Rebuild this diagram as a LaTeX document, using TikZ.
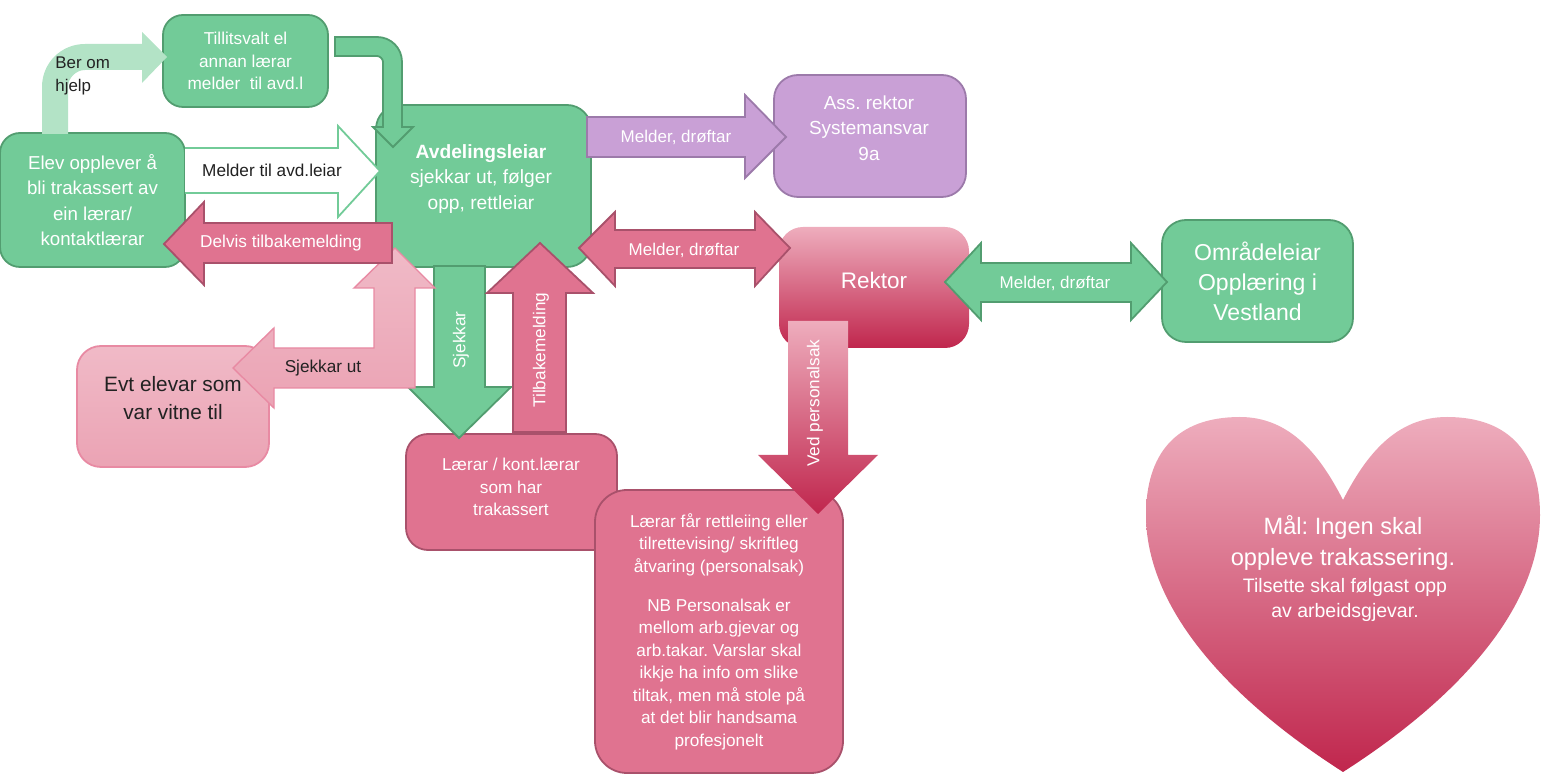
\documentclass[tikz,border=0pt]{standalone}
\usepackage{fontspec}
\setmainfont{Liberation Sans}
\frenchspacing
\definecolor{grn}{HTML}{72CB98}
\definecolor{grnline}{HTML}{529D70}
\definecolor{grnlight}{HTML}{B3E3C6}
\definecolor{pnk}{HTML}{E07390}
\definecolor{pnkline}{HTML}{A9516B}
\definecolor{pnklighttop}{HTML}{F0BAC7}
\definecolor{pnklight}{HTML}{EBA3B4}
\definecolor{pnklightline}{HTML}{E88AA3}
\definecolor{pnktop}{HTML}{EEADBD}
\definecolor{pnkbot}{HTML}{C0264D}
\definecolor{prp}{HTML}{C9A0D6}
\definecolor{prpline}{HTML}{9C7AAA}
\definecolor{ink}{HTML}{222222}

\begin{document}
\begin{tikzpicture}[x=0.5pt, y=-0.5pt]
  \tikzset{
    box/.style={rectangle, rounded corners=10pt, line width=0.9pt, inner sep=0pt, align=center},
    gbox/.style={box, fill=grn, draw=grnline, text=white},
    pbox/.style={box, fill=pnk, draw=pnkline, text=white},
    vbox/.style={box, fill=prp, draw=prpline, text=white},
    garrow/.style={fill=grn, draw=grnline, line width=0.9pt},
    parrow/.style={fill=pnk, draw=pnkline, line width=0.9pt},
    wtxt/.style={inner sep=0pt, align=center, text=white},
    btxt/.style={inner sep=0pt, align=center, text=ink},
    small/.style={font=\fontsize{8.6}{11.4}\selectfont},
    cond/.style={font=\fontsize{8.5}{11}\selectfont}
  };
  \useasboundingbox (0,0) rectangle (1543,774);

  \node[gbox, minimum width=92.5pt, minimum height=67pt, font=\fontsize{9.35}{12.65}\selectfont] (elev) at (92.5,200) {Elev opplever å\\bli trakassert av\\ein lærar/\\kontaktlærar};
  \node[gbox, minimum width=82.5pt, minimum height=46pt, small] (tillit) at (245.5,61) {Tillitsvalt el\\annan lærar\\melder\ \ til avd.l};
  \node[gbox, minimum width=107.5pt, minimum height=81pt, rounded corners=12pt] (avd) at (483.5,186) {};
  \node[wtxt, font=\fontsize{9.6}{12.75}\selectfont] (avdtxt) at (481,179) {\textbf{Avdelingsleiar}\\sjekkar ut, følger\\opp, rettleiar};
  \node[vbox, minimum width=96pt, minimum height=61pt, rounded corners=12pt] (ass) at (870,136) {};
  \node[wtxt, font=\fontsize{9.45}{12.75}\selectfont] (asstxt) at (869,128) {Ass. rektor\\Systemansvar\\9a};
  \node[box, minimum width=95pt, minimum height=60.5pt, rounded corners=12pt, top color=pnktop, bottom color=pnkbot] (rektor) at (874,287.5) {};
  \node[wtxt, font=\fontsize{11.25}{14}\selectfont] (rektortxt) at (874,280) {Rektor};
  \node[gbox, minimum width=95.5pt, minimum height=61pt, rounded corners=12pt, font=\fontsize{11.5}{15}\selectfont] (omr) at (1257.5,281) {Områdeleiar\\Opplæring i\\Vestland};
  \node[box, draw=pnklightline, top color=pnklighttop, bottom color=pnklight, minimum width=96pt, minimum height=60.5pt, rounded corners=12pt] (evt) at (173,406.5) {};
  \node[btxt, font=\fontsize{10.4}{14}\selectfont] (evttxt) at (173,398) {Evt elevar som\\var vitne til};
  \node[pbox, minimum width=105.5pt, minimum height=58pt, rounded corners=11pt] (laerar) at (511.5,492) {};
  \node[wtxt, small] (laerartxt) at (511,487) {Lærar / kont.lærar\\som har\\trakassert};
  \node[pbox, minimum width=124pt, minimum height=141.5pt, rounded corners=16pt, font=\fontsize{8.6}{11.25}\selectfont] (tiltak) at (719,631.5) {Lærar får rettleiing eller\\tilrettevising/ skriftleg\\åtvaring (personalsak)\\[8.25pt]NB Personalsak er\\mellom arb.gjevar og\\arb.takar. Varslar skal\\ikkje ha info om slike\\tiltak, men må stole på\\at det blir handsama\\profesjonelt};

  \fill[grnlight] (42,134) -- (42,87) .. controls (42,63) and (61,44) .. (85,44) -- (142,44) -- (142,32) -- (167,57) -- (142,83) -- (142,70) -- (85,70) .. controls (76,70) and (68,78) .. (68,87) -- (68,134) -- cycle;
  \node[btxt, anchor=west, align=left, font=\fontsize{8.45}{11.5}\selectfont] (hjelp) at (55,76) {Ber om\\hjelp};

  \draw[garrow] (335,37) -- (377,37) .. controls (391,37) and (402,48) .. (402,62) -- (402,127) -- (413,127) -- (393,147) -- (373,127) -- (383,127) -- (383,62) .. controls (383,59) and (380,56) .. (377,56) -- (335,56) -- cycle;

  \draw[fill=white, draw=grn, line width=0.9pt] (185,148) -- (338,148) -- (338,126) -- (380,171) -- (338,217) -- (338,193) -- (185,193);
  \node[btxt, small] (meldtxt) at (272,170) {Melder til avd.leiar};

  \draw[fill=prp, draw=prpline, line width=0.9pt] (587,117) -- (745,117) -- (745,95) -- (786,137) -- (745,178) -- (745,157) -- (587,157) -- cycle;
  \node[wtxt, cond] (asslbl) at (676,137) {Melder, drøftar};

  \draw[parrow] (579,248) -- (615,212) -- (615,230) -- (755,230) -- (755,212) -- (790,248) -- (755,286) -- (755,268) -- (615,268) -- (615,286) -- cycle;
  \node[wtxt, cond] (rektorlbl) at (684,250) {Melder, drøftar};

  \draw[garrow] (945,282) -- (981,243) -- (981,263) -- (1131,263) -- (1131,243) -- (1167,282) -- (1131,320) -- (1131,302) -- (981,302) -- (981,320) -- cycle;
  \node[wtxt, cond] (omrlbl) at (1055,283) {Melder, drøftar};

  \path[top color=pnktop, bottom color=pnkbot] (788,321) -- (848,321) -- (848,455) -- (878,455) -- (818,514) -- (758,455) -- (788,455) -- cycle;
  \node[wtxt, small, rotate=90] (vedlbl) at (815,403) {Ved personalsak};

  \draw[garrow] (434,266) -- (485,266) -- (485,387) -- (511,387) -- (459,438) -- (408,387) -- (434,387) -- cycle;
  \node[wtxt, small, rotate=90] (sjekklbl) at (461,340) {Sjekkar};

  \draw[parrow] (513,432) -- (513,293) -- (487,293) -- (540,243) -- (593,293) -- (566,293) -- (566,432) -- cycle;
  \node[wtxt, small, rotate=90] (tilbakelbl) at (541,350) {Tilbakemelding};

  \draw[draw=pnklightline, top color=pnklighttop, bottom color=pnklight, line width=0.7pt] (395,248) -- (435,288) -- (415,288) -- (415,388) -- (274,388) -- (274,408) -- (233,368) -- (274,328) -- (274,348) -- (374,348) -- (374,288) -- (354,288) -- cycle;
  \node[btxt, small] (sjekkutlbl) at (323,368) {Sjekkar ut};

  \draw[parrow] (392,223) -- (204,223) -- (204,202) -- (164,244) -- (204,285) -- (204,263) -- (392,263) -- cycle;
  \node[wtxt, small] (delvislbl) at (281,243) {Delvis tilbakemelding};

  \path[top color=pnktop, bottom color=pnkbot] (1343,500) .. controls (1320,455) and (1290,417) .. (1240,417) .. controls (1175,417) and (1146,455) .. (1146,515) .. controls (1146,600) and (1215,690) .. (1343,772) .. controls (1471,690) and (1540,600) .. (1540,515) .. controls (1540,455) and (1511,417) .. (1447,417) .. controls (1396,417) and (1366,455) .. (1343,500) -- cycle;
  \node[wtxt, font=\fontsize{11.8}{15.5}\selectfont] (maal) at (1343,542.5) {Mål: Ingen skal\\oppleve trakassering.};
  \node[wtxt, font=\fontsize{9.75}{12.5}\selectfont] (tilsette) at (1345,599.5) {Tilsette skal følgast opp\\av arbeidsgjevar.};
\end{tikzpicture}
\end{document}
